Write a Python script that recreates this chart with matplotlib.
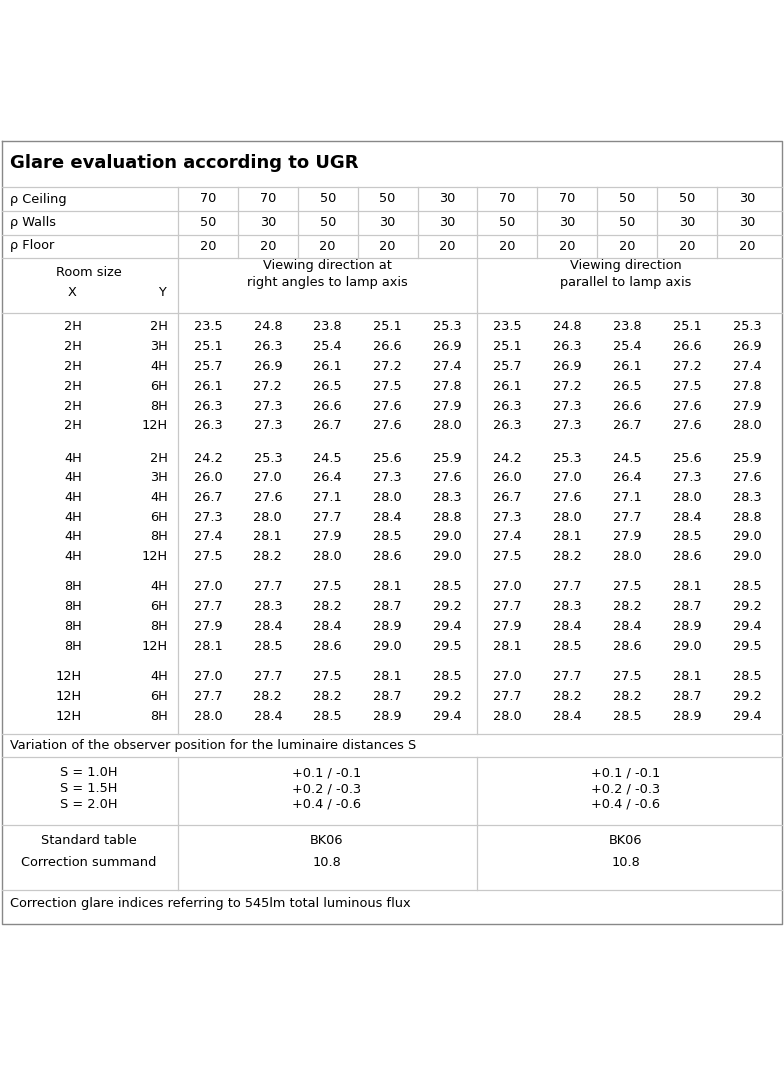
import matplotlib
matplotlib.use("Agg")
import matplotlib.pyplot as plt

title = "Glare evaluation according to UGR"
rho_labels = ["ρ Ceiling", "ρ Walls", "ρ Floor"]
rho_ceiling = [70, 70, 50, 50, 30, 70, 70, 50, 50, 30]
rho_walls = [50, 30, 50, 30, 30, 50, 30, 50, 30, 30]
rho_floor = [20] * 10
room_x = [["2H"]*6, ["4H"]*6, ["8H"]*4, ["12H"]*3]
room_y = [["2H","3H","4H","6H","8H","12H"], ["2H","3H","4H","6H","8H","12H"],
          ["4H","6H","8H","12H"], ["4H","6H","8H"]]
ugr_perp = [
    [[23.5,24.8,23.8,25.1,25.3],[25.1,26.3,25.4,26.6,26.9],[25.7,26.9,26.1,27.2,27.4],
     [26.1,27.2,26.5,27.5,27.8],[26.3,27.3,26.6,27.6,27.9],[26.3,27.3,26.7,27.6,28.0]],
    [[24.2,25.3,24.5,25.6,25.9],[26.0,27.0,26.4,27.3,27.6],[26.7,27.6,27.1,28.0,28.3],
     [27.3,28.0,27.7,28.4,28.8],[27.4,28.1,27.9,28.5,29.0],[27.5,28.2,28.0,28.6,29.0]],
    [[27.0,27.7,27.5,28.1,28.5],[27.7,28.3,28.2,28.7,29.2],[27.9,28.4,28.4,28.9,29.4],
     [28.1,28.5,28.6,29.0,29.5]],
    [[27.0,27.7,27.5,28.1,28.5],[27.7,28.2,28.2,28.7,29.2],[28.0,28.4,28.5,28.9,29.4]],
]
ugr_par = ugr_perp
s_labels = ["S = 1.0H", "S = 1.5H", "S = 2.0H"]
s_perp = ["+0.1 / -0.1", "+0.2 / -0.3", "+0.4 / -0.6"]
s_par = ["+0.1 / -0.1", "+0.2 / -0.3", "+0.4 / -0.6"]
std_table = ["BK06", "BK06"]
corr_summand = ["10.8", "10.8"]
footer = "Correction glare indices referring to 545lm total luminous flux"

fig = plt.figure(figsize=(7.84, 10.66), dpi=100)
ax = fig.add_axes([0, 0, 1, 1])
ax.set_xlim(0, 784); ax.set_ylim(1066, 0); ax.axis("off")
lc = "#c8c8c8"
def hl(y, x0=2, x1=782, c=lc): ax.plot([x0, x1], [y, y], color=c, lw=0.9)
def vl(x, y0, y1, c=lc): ax.plot([x, x], [y0, y1], color=c, lw=0.9)
def t(x, y, s, ha="center", fs=9.3, **kw): ax.text(x, y, s, ha=ha, va="center", fontsize=fs, **kw)

ax.plot([2, 782, 782, 2, 2], [141, 141, 924, 924, 141], color="#888888", lw=1)
t(10, 163, title, ha="left", fs=13, fontweight="bold")
for y in [187, 211, 235, 258, 313, 734, 757, 825, 890]:
    hl(y)
vl(178, 187, 734); vl(477, 258, 734)
vl(178, 757, 890); vl(477, 757, 890)
cols = [178 + 59.9 * i for i in range(11)]
for x in cols[1:-1]:
    vl(x, 187, 258)
centers = [(cols[i] + cols[i+1]) / 2 for i in range(10)]
for r, (lab, vals) in enumerate(zip(rho_labels, [rho_ceiling, rho_walls, rho_floor])):
    y = 199 + r * 23.5
    t(10, y, lab, ha="left")
    for c, v in zip(centers, vals):
        t(c, y, str(v))
t(89, 273, "Room size"); t(72, 292, "X"); t(162, 292, "Y")
t(327, 274, "Viewing direction at\nright angles to lamp axis", linespacing=1.45)
t(626, 274, "Viewing direction\nparallel to lamp axis", linespacing=1.45)

starts = [327, 458, 587, 677]
for g in range(4):
    for i in range(len(room_x[g])):
        y = starts[g] + i * 19.75
        t(82, y, room_x[g][i], ha="right")
        t(168, y, room_y[g][i], ha="right")
        for j, v in enumerate(ugr_perp[g][i] + ugr_par[g][i]):
            t(centers[j], y, f"{v:.1f}")
t(10, 745, "Variation of the observer position for the luminaire distances S", ha="left")
for i in range(3):
    y = 773 + i * 15.5
    t(89, y, s_labels[i]); t(327, y, s_perp[i]); t(626, y, s_par[i])
t(89, 841, "Standard table"); t(89, 862, "Correction summand")
for x, a, b in zip([327, 626], std_table, corr_summand):
    t(x, 841, a); t(x, 862, b)
t(10, 904, footer, ha="left")
fig.savefig("out.png", dpi=100, facecolor="white")
